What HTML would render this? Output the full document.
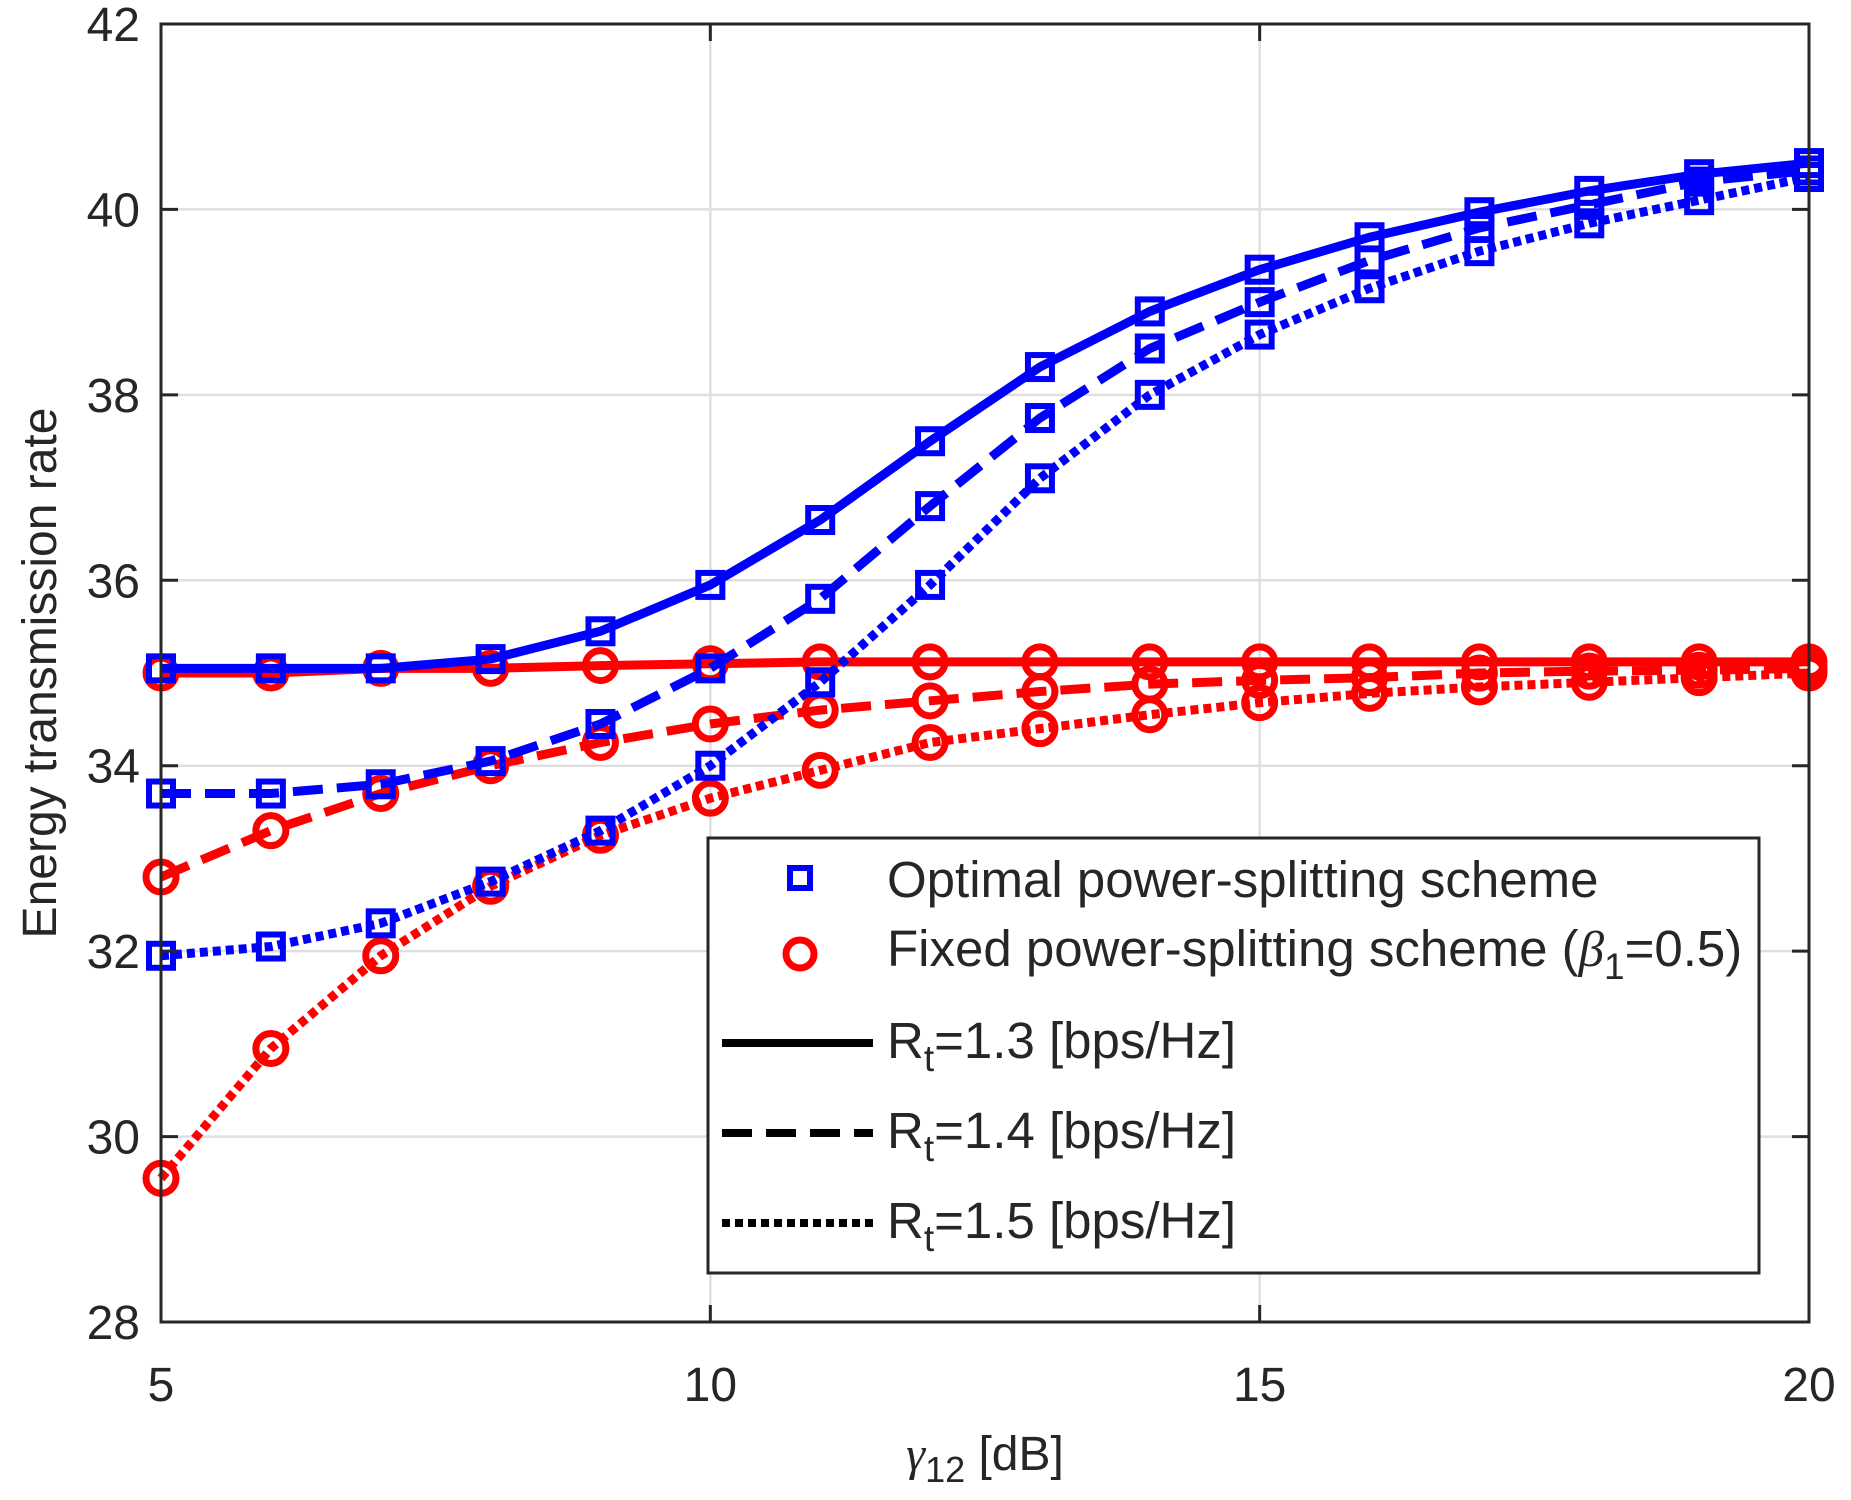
<!DOCTYPE html>
<html><head><meta charset="utf-8"><style>
html,body{margin:0;padding:0;background:#fff;}
svg{display:block;font-family:"Liberation Sans",sans-serif;}
</style></head><body>
<svg id="chart" width="1851" height="1500" viewBox="0 0 1851 1500" xmlns="http://www.w3.org/2000/svg">
<rect width="1851" height="1500" fill="#fff"/>
<g id="grid"></g>
<g id="series"></g>
<rect x="161" y="24" width="1648" height="1298" fill="none" stroke="#262626" stroke-width="3"/>
<g id="ticks"></g>
<text transform="translate(56,673) rotate(-90)" text-anchor="middle" font-size="48" fill="#262626">Energy transmission rate</text>
<text x="985" y="1470" text-anchor="middle" font-size="48" fill="#262626"><tspan font-family="Liberation Serif" font-style="italic">γ</tspan><tspan font-size="36" dy="12">12</tspan><tspan dy="-12"> [dB]</tspan></text>
<g>
<rect x="708" y="838" width="1051" height="435" fill="#fff" stroke="#262626" stroke-width="3"/>
<rect x="790" y="868" width="20" height="20" fill="none" stroke="#0000ff" stroke-width="6"/>
<text x="887" y="897" font-size="51" fill="#262626">Optimal power-splitting scheme</text>
<circle cx="800" cy="954" r="14" fill="none" stroke="#ff0000" stroke-width="7"/>
<text x="887" y="966" font-size="51" fill="#262626">Fixed power-splitting scheme (<tspan font-family="Liberation Serif" font-style="italic">β</tspan><tspan font-size="37" dy="13">1</tspan><tspan dy="-13">=0.5)</tspan></text>
<line x1="722" y1="1043" x2="873" y2="1043" stroke="#000" stroke-width="8"/>
<text x="887" y="1058" font-size="51" fill="#262626">R<tspan font-size="37" dy="13">t</tspan><tspan dy="-13">=1.3 [bps/Hz]</tspan></text>
<line x1="722" y1="1133" x2="873" y2="1133" stroke="#000" stroke-width="8" stroke-dasharray="30,14"/>
<text x="887" y="1148" font-size="51" fill="#262626">R<tspan font-size="37" dy="13">t</tspan><tspan dy="-13">=1.4 [bps/Hz]</tspan></text>
<line x1="722" y1="1223" x2="873" y2="1223" stroke="#000" stroke-width="8" stroke-dasharray="8,5"/>
<text x="887" y="1238" font-size="51" fill="#262626">R<tspan font-size="37" dy="13">t</tspan><tspan dy="-13">=1.5 [bps/Hz]</tspan></text>
</g>
</svg>
<script>
const xVals = [5,6,7,8,9,10,11,12,13,14,15,16,17,18,19,20];
const xTicks = [5,10,15,20];
const yTicks = [28,30,32,34,36,38,40,42];
const optR13 = [35.05,35.05,35.05,35.15,35.45,35.95,36.65,37.5,38.3,38.9,39.35,39.7,39.97,40.2,40.38,40.5];
const optR14 = [33.7,33.7,33.8,34.05,34.45,35.05,35.8,36.8,37.75,38.5,39.0,39.45,39.8,40.05,40.3,40.42];
const optR15 = [31.95,32.05,32.3,32.75,33.3,34.0,34.9,35.95,37.1,38.0,38.65,39.15,39.55,39.85,40.1,40.35];
const fixR13 = [35.0,35.0,35.05,35.05,35.08,35.1,35.12,35.12,35.12,35.12,35.12,35.12,35.12,35.12,35.12,35.12];
const fixR14 = [32.8,33.3,33.7,34.0,34.25,34.45,34.6,34.7,34.8,34.88,34.92,34.95,35.0,35.02,35.03,35.05];
const fixR15 = [29.55,30.95,31.95,32.7,33.25,33.65,33.95,34.25,34.4,34.55,34.68,34.78,34.85,34.9,34.95,35.0];

const NS='http://www.w3.org/2000/svg';
const L=161,R=1809,T=24,B=1322;
const sx=v=>L+(v-5)/15*(R-L);
const sy=v=>B-(v-28)/14*(B-T);
function mk(tag,attrs,parent){const e=document.createElementNS(NS,tag);for(const k in attrs)e.setAttribute(k,attrs[k]);parent.appendChild(e);return e;}
const grid=document.getElementById('grid'),ticks=document.getElementById('ticks'),ser=document.getElementById('series');
xTicks.forEach(t=>{
  const g=mk('line',{x1:sx(t),x2:sx(t),y1:T,y2:B,stroke:'#dfdfdf','stroke-width':2.5},grid);
  
  
  [[B,B-17],[T,T+17]].forEach(p=>{const k=mk('line',{x1:sx(t),x2:sx(t),y1:p[0],y2:p[1],stroke:'#262626','stroke-width':3},ticks);
    
    });
  const lb=mk('text',{x:sx(t),y:1401,'text-anchor':'middle','font-size':48,fill:'#262626'},ticks);
  lb.textContent=t;
  
  
});
yTicks.forEach(t=>{
  const g=mk('line',{x1:L,x2:R,y1:sy(t),y2:sy(t),stroke:'#dfdfdf','stroke-width':2.5},grid);
  
  
  [[L,L+17],[R,R-17]].forEach(p=>{const k=mk('line',{x1:p[0],x2:p[1],y1:sy(t),y2:sy(t),stroke:'#262626','stroke-width':3},ticks);
    
    });
  const lb=mk('text',{x:140,y:sy(t)+17,'text-anchor':'end','font-size':48,fill:'#262626'},ticks);
  lb.textContent=t;
  
  
});
const dashes={solid:'',dash:'30,14',dot:'8,5'};
function series(vals,color,dash,marker,name){
  const g=mk('g',{},ser);
  
  
  const pts=vals.map((v,i)=>sx(xVals[i])+','+sy(v)).join(' ');
  const pl=mk('polyline',{points:pts,fill:'none',stroke:color,'stroke-width':9,'stroke-dasharray':dashes[dash]},g);
  
  
  vals.forEach((v,i)=>{
    let m;
    if(marker==='sq') m=mk('rect',{x:sx(xVals[i])-12,y:sy(v)-12,width:24,height:24,fill:'none',stroke:color,'stroke-width':6},g);
    else m=mk('circle',{cx:sx(xVals[i]),cy:sy(v),r:15,fill:'none',stroke:color,'stroke-width':7},g);
    
    
  });
}
series(fixR15,'#ff0000','dot','c','fixed-r15');
series(fixR14,'#ff0000','dash','c','fixed-r14');
series(fixR13,'#ff0000','solid','c','fixed-r13');
series(optR15,'#0000ff','dot','sq','optimal-r15');
series(optR14,'#0000ff','dash','sq','optimal-r14');
series(optR13,'#0000ff','solid','sq','optimal-r13');
</script>
</body></html>
